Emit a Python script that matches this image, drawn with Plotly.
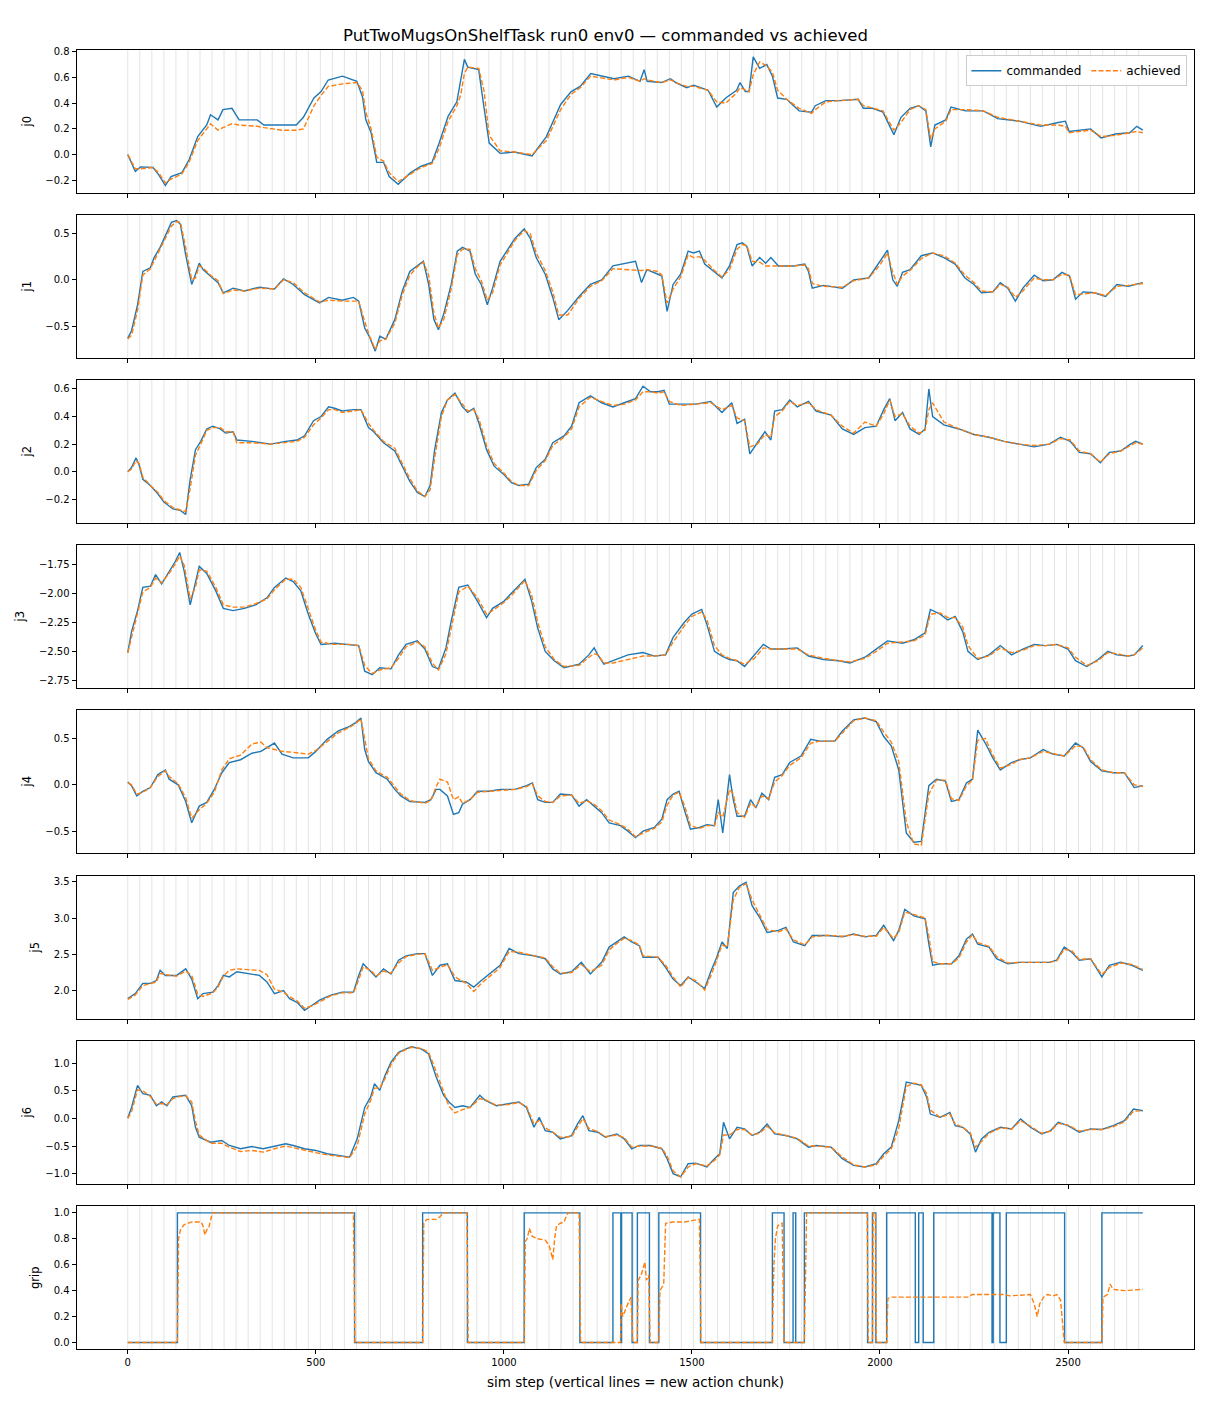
import plotly.graph_objects as go

# ---------------- data ----------------
j0_steps = [0,20,34,67,82,100,115,144,163,186,
            210,220,240,253,277,296,344,362,410,448,
            467,495,514,533,571,609,624,633,647,662,
            680,695,719,752,780,809,828,852,875,885,
            895,904,933,947,961,990,1028,1075,1113,1151,
            1179,1203,1231,1293,1331,1362,1373,1381,1419,1443,
            1457,1486,1505,1543,1566,1590,1619,1628,1642,1652,
            1663,1680,1699,1714,1728,1752,1785,1818,1828,1856,
            1894,1942,1956,1980,2008,2037,2056,2080,2103,2122,
            2135,2146,2175,2189,2227,2275,2313,2370,2427,2474,
            2493,2503,2560,2588,2626,2664,2683,2699]
j0_cmd = [0.00,-0.13,-0.095,-0.10,-0.155,-0.24,-0.17,-0.14,-0.04,0.14,
          0.23,0.31,0.27,0.35,0.36,0.27,0.27,0.23,0.23,0.23,
          0.29,0.44,0.49,0.58,0.61,0.57,0.45,0.27,0.17,-0.06,
          -0.06,-0.17,-0.23,-0.14,-0.09,-0.06,0.09,0.30,0.41,0.58,
          0.74,0.68,0.66,0.37,0.09,0.01,0.02,-0.01,0.14,0.39,
          0.49,0.53,0.63,0.59,0.61,0.57,0.66,0.57,0.56,0.59,
          0.56,0.52,0.54,0.50,0.37,0.44,0.50,0.56,0.49,0.49,
          0.76,0.67,0.70,0.61,0.44,0.43,0.34,0.33,0.38,0.42,
          0.42,0.43,0.36,0.36,0.33,0.155,0.29,0.36,0.38,0.34,
          0.06,0.23,0.27,0.37,0.34,0.34,0.28,0.26,0.22,0.25,
          0.26,0.18,0.20,0.13,0.16,0.17,0.22,0.19]
j0_ach = [0.00,-0.11,-0.11,-0.10,-0.14,-0.22,-0.19,-0.15,-0.06,0.11,
          0.20,0.24,0.19,0.21,0.24,0.23,0.22,0.21,0.19,0.19,
          0.20,0.38,0.46,0.53,0.55,0.56,0.50,0.33,0.20,-0.02,
          -0.05,-0.14,-0.21,-0.15,-0.10,-0.07,0.05,0.26,0.38,0.46,
          0.63,0.68,0.67,0.50,0.15,0.03,0.02,0.00,0.11,0.35,
          0.47,0.52,0.61,0.58,0.60,0.57,0.59,0.58,0.56,0.58,
          0.56,0.53,0.53,0.50,0.41,0.40,0.48,0.52,0.50,0.49,
          0.62,0.72,0.69,0.64,0.50,0.43,0.36,0.32,0.35,0.41,
          0.42,0.43,0.38,0.36,0.34,0.19,0.25,0.35,0.38,0.35,
          0.12,0.20,0.26,0.35,0.35,0.34,0.29,0.26,0.23,0.23,
          0.22,0.17,0.19,0.14,0.15,0.17,0.18,0.17]

j1_steps = [0,10,26,40,60,70,86,100,116,130,
            140,154,170,180,190,200,220,240,254,280,
            310,350,390,414,440,470,510,534,570,600,
            614,630,642,658,670,686,710,730,750,770,
            786,800,814,826,840,860,876,890,910,924,
            940,956,970,990,1010,1030,1054,1070,1086,1110,
            1130,1146,1170,1200,1230,1260,1290,1326,1350,1366,
            1380,1410,1420,1434,1450,1470,1490,1504,1520,1534,
            1560,1580,1600,1620,1634,1646,1660,1680,1696,1710,
            1730,1770,1800,1810,1820,1850,1900,1930,1970,2000,
            2020,2034,2046,2060,2080,2110,2140,2170,2200,2226,
            2250,2270,2300,2320,2340,2360,2380,2410,2434,2460,
            2484,2504,2520,2540,2570,2600,2630,2660,2699]
j1_cmd = [-0.63,-0.55,-0.27,0.09,0.13,0.24,0.35,0.47,0.62,0.64,
          0.60,0.27,-0.05,0.06,0.18,0.11,0.04,-0.03,-0.14,-0.09,
          -0.12,-0.08,-0.10,0.01,-0.05,-0.16,-0.25,-0.19,-0.22,-0.19,
          -0.23,-0.52,-0.61,-0.77,-0.61,-0.64,-0.43,-0.12,0.09,0.15,
          0.20,-0.05,-0.43,-0.54,-0.37,-0.05,0.31,0.35,0.31,0.06,
          -0.05,-0.27,-0.09,0.20,0.33,0.45,0.55,0.45,0.24,0.06,
          -0.19,-0.43,-0.33,-0.18,-0.05,0.00,0.15,0.18,0.20,-0.03,
          0.11,0.06,0.04,-0.34,-0.05,0.06,0.31,0.29,0.31,0.17,
          0.08,0.02,0.15,0.38,0.40,0.36,0.15,0.24,0.18,0.24,
          0.15,0.15,0.17,0.09,-0.09,-0.06,-0.09,0.00,0.02,0.20,
          0.32,0.00,-0.07,0.08,0.11,0.26,0.29,0.24,0.17,0.02,
          -0.05,-0.14,-0.13,-0.03,-0.09,-0.23,-0.09,0.05,-0.01,0.00,
          0.08,0.04,-0.21,-0.13,-0.14,-0.18,-0.05,-0.07,-0.03]
j1_ach = [-0.64,-0.60,-0.33,0.05,0.12,0.20,0.33,0.44,0.58,0.63,
          0.62,0.35,0.00,0.02,0.15,0.13,0.05,-0.01,-0.15,-0.11,
          -0.12,-0.09,-0.10,0.00,-0.03,-0.14,-0.24,-0.22,-0.23,-0.23,
          -0.23,-0.45,-0.60,-0.75,-0.66,-0.64,-0.47,-0.16,0.05,0.14,
          0.19,0.05,-0.36,-0.52,-0.43,-0.10,0.27,0.33,0.33,0.12,
          -0.01,-0.22,-0.14,0.16,0.30,0.43,0.53,0.50,0.29,0.10,
          -0.13,-0.38,-0.38,-0.20,-0.07,-0.01,0.12,0.11,0.11,0.10,
          0.11,0.09,0.05,-0.25,-0.10,0.03,0.27,0.24,0.25,0.21,
          0.10,0.03,0.11,0.33,0.38,0.37,0.20,0.19,0.15,0.15,
          0.15,0.15,0.16,0.12,-0.04,-0.07,-0.08,-0.01,0.02,0.16,
          0.29,0.08,-0.05,0.04,0.10,0.23,0.29,0.26,0.18,0.05,
          -0.03,-0.12,-0.13,-0.05,-0.08,-0.19,-0.12,0.02,0.00,0.00,
          0.06,0.05,-0.16,-0.15,-0.14,-0.17,-0.07,-0.06,-0.04]

j2_steps = [0,10,22,30,40,60,80,96,120,140,
            154,166,180,194,210,226,246,260,280,290,
            330,380,420,450,470,494,514,534,550,570,
            600,620,640,654,680,710,730,750,770,790,
            804,816,834,850,870,890,904,920,934,954,
            974,1000,1020,1040,1066,1086,1110,1130,1160,1180,
            1200,1230,1260,1290,1320,1350,1370,1390,1410,1426,
            1440,1470,1510,1550,1580,1606,1620,1640,1654,1674,
            1694,1710,1720,1740,1760,1780,1810,1830,1870,1900,
            1930,1960,1990,2010,2026,2040,2060,2080,2104,2120,
            2130,2140,2170,2210,2250,2290,2330,2370,2410,2450,
            2480,2506,2530,2560,2586,2610,2640,2666,2680,2699]
j2_cmd = [0.00,0.03,0.10,0.05,-0.055,-0.10,-0.16,-0.22,-0.27,-0.28,
          -0.31,-0.055,0.16,0.22,0.31,0.33,0.31,0.28,0.29,0.23,
          0.22,0.20,0.22,0.23,0.26,0.37,0.40,0.47,0.46,0.44,
          0.45,0.45,0.32,0.29,0.21,0.15,0.04,-0.07,-0.15,-0.18,
          -0.10,0.16,0.43,0.52,0.57,0.47,0.43,0.46,0.35,0.16,
          0.04,-0.02,-0.08,-0.10,-0.09,0.03,0.09,0.21,0.26,0.33,
          0.50,0.55,0.50,0.47,0.50,0.53,0.62,0.58,0.58,0.59,
          0.49,0.49,0.49,0.51,0.43,0.50,0.35,0.38,0.13,0.21,
          0.29,0.23,0.44,0.45,0.52,0.47,0.51,0.44,0.41,0.31,
          0.27,0.32,0.33,0.45,0.53,0.37,0.43,0.31,0.27,0.31,
          0.60,0.40,0.34,0.31,0.27,0.25,0.22,0.20,0.18,0.20,
          0.25,0.22,0.14,0.13,0.065,0.14,0.15,0.20,0.22,0.20]
j2_ach = [0.00,0.02,0.08,0.06,-0.04,-0.10,-0.15,-0.21,-0.26,-0.28,
          -0.29,-0.12,0.12,0.20,0.30,0.32,0.32,0.29,0.29,0.21,
          0.21,0.20,0.21,0.22,0.25,0.34,0.39,0.45,0.45,0.43,
          0.44,0.45,0.35,0.30,0.22,0.17,0.06,-0.05,-0.14,-0.18,
          -0.13,0.10,0.40,0.52,0.56,0.49,0.44,0.45,0.38,0.19,
          0.06,-0.01,-0.07,-0.10,-0.10,0.01,0.08,0.19,0.25,0.31,
          0.47,0.54,0.51,0.48,0.49,0.52,0.58,0.58,0.57,0.58,
          0.51,0.48,0.49,0.50,0.45,0.48,0.39,0.37,0.18,0.20,
          0.27,0.25,0.40,0.44,0.51,0.48,0.50,0.45,0.41,0.33,
          0.28,0.36,0.33,0.42,0.52,0.40,0.42,0.33,0.28,0.30,
          0.45,0.50,0.36,0.31,0.27,0.25,0.22,0.20,0.19,0.20,
          0.24,0.23,0.15,0.13,0.07,0.13,0.15,0.19,0.21,0.20]

j3_steps = [0,10,26,40,60,74,90,110,126,138,
            150,166,180,190,210,234,254,280,310,340,
            370,390,420,440,460,480,500,514,550,590,
            614,630,650,670,700,720,740,770,790,810,
            826,846,860,880,904,930,954,970,1000,1020,
            1040,1056,1074,1090,1110,1134,1160,1200,1226,1240,
            1250,1266,1290,1330,1370,1400,1430,1450,1480,1500,
            1526,1540,1560,1580,1600,1620,1640,1666,1690,1710,
            1740,1780,1810,1850,1890,1920,1960,1990,2020,2060,
            2090,2120,2134,2160,2180,2200,2220,2234,2260,2290,
            2320,2350,2380,2410,2440,2470,2500,2520,2550,2580,
            2606,2630,2660,2676,2699]
j3_cmd = [-2.51,-2.33,-2.15,-1.95,-1.94,-1.84,-1.92,-1.81,-1.73,-1.65,
          -1.81,-2.10,-1.90,-1.77,-1.83,-1.98,-2.13,-2.15,-2.13,-2.10,
          -2.04,-1.95,-1.87,-1.90,-1.98,-2.18,-2.35,-2.44,-2.43,-2.44,
          -2.45,-2.67,-2.70,-2.64,-2.65,-2.53,-2.44,-2.41,-2.48,-2.63,
          -2.65,-2.47,-2.24,-1.95,-1.93,-2.07,-2.21,-2.13,-2.07,-2.00,
          -1.93,-1.88,-2.07,-2.30,-2.50,-2.58,-2.64,-2.61,-2.53,-2.47,
          -2.53,-2.61,-2.58,-2.53,-2.51,-2.54,-2.53,-2.38,-2.25,-2.18,
          -2.14,-2.27,-2.50,-2.54,-2.57,-2.58,-2.63,-2.53,-2.44,-2.48,
          -2.48,-2.47,-2.54,-2.57,-2.58,-2.60,-2.55,-2.48,-2.41,-2.43,
          -2.40,-2.34,-2.14,-2.18,-2.23,-2.20,-2.33,-2.50,-2.57,-2.53,
          -2.45,-2.53,-2.48,-2.44,-2.45,-2.44,-2.48,-2.58,-2.63,-2.57,
          -2.50,-2.53,-2.54,-2.53,-2.45]
j3_ach = [-2.51,-2.38,-2.19,-1.99,-1.95,-1.87,-1.91,-1.83,-1.75,-1.68,
          -1.76,-2.05,-1.95,-1.80,-1.81,-1.95,-2.10,-2.12,-2.12,-2.09,
          -2.05,-1.97,-1.88,-1.88,-1.95,-2.13,-2.32,-2.42,-2.44,-2.44,
          -2.45,-2.62,-2.69,-2.66,-2.64,-2.56,-2.46,-2.42,-2.46,-2.60,
          -2.66,-2.52,-2.30,-1.99,-1.94,-2.04,-2.18,-2.15,-2.08,-2.02,
          -1.95,-1.89,-2.02,-2.25,-2.46,-2.57,-2.63,-2.62,-2.55,-2.52,
          -2.53,-2.60,-2.60,-2.57,-2.54,-2.54,-2.53,-2.42,-2.28,-2.20,
          -2.16,-2.23,-2.45,-2.53,-2.56,-2.58,-2.61,-2.56,-2.47,-2.48,
          -2.48,-2.48,-2.53,-2.56,-2.58,-2.59,-2.56,-2.50,-2.43,-2.42,
          -2.41,-2.36,-2.18,-2.17,-2.21,-2.21,-2.29,-2.45,-2.56,-2.54,
          -2.47,-2.51,-2.49,-2.45,-2.45,-2.44,-2.47,-2.55,-2.62,-2.58,
          -2.51,-2.52,-2.54,-2.53,-2.47]

j4_steps = [0,10,24,40,60,80,100,110,134,154,
            170,190,210,230,250,270,300,330,354,370,
            390,410,440,480,500,530,560,590,606,620,
            630,640,660,690,710,726,750,790,806,820,
            830,850,866,880,890,910,930,960,990,1030,
            1060,1076,1090,1110,1130,1150,1180,1200,1220,1240,
            1260,1280,1310,1330,1350,1370,1400,1420,1434,1450,
            1466,1480,1496,1520,1540,1560,1570,1582,1600,1610,
            1620,1640,1656,1670,1686,1704,1720,1740,1760,1790,
            1816,1840,1880,1900,1930,1960,1990,2010,2030,2050,
            2070,2090,2110,2130,2150,2174,2190,2210,2230,2246,
            2260,2280,2300,2320,2350,2370,2400,2434,2460,2490,
            2520,2540,2560,2590,2620,2650,2676,2699]
j4_cmd = [0.03,-0.01,-0.12,-0.07,-0.03,0.11,0.16,0.06,0.00,-0.18,
          -0.41,-0.23,-0.19,-0.05,0.13,0.24,0.27,0.34,0.36,0.40,
          0.45,0.33,0.29,0.29,0.36,0.49,0.58,0.63,0.67,0.72,
          0.38,0.25,0.13,0.06,-0.05,-0.12,-0.18,-0.19,-0.16,-0.05,
          -0.05,-0.12,-0.32,-0.30,-0.21,-0.16,-0.07,-0.07,-0.05,-0.05,
          -0.01,0.02,-0.16,-0.19,-0.19,-0.10,-0.11,-0.23,-0.16,-0.23,
          -0.30,-0.41,-0.44,-0.50,-0.57,-0.50,-0.46,-0.37,-0.16,-0.10,
          -0.07,-0.27,-0.48,-0.46,-0.43,-0.44,-0.16,-0.52,0.11,-0.16,
          -0.34,-0.34,-0.16,-0.25,-0.09,-0.16,0.08,0.11,0.24,0.31,
          0.49,0.47,0.47,0.58,0.70,0.72,0.68,0.52,0.42,0.16,
          -0.52,-0.62,-0.61,-0.01,0.06,0.04,-0.18,-0.16,0.02,0.06,
          0.59,0.45,0.29,0.16,0.24,0.27,0.29,0.38,0.33,0.31,
          0.45,0.40,0.25,0.15,0.13,0.13,-0.03,-0.01]
j4_ach = [0.02,0.00,-0.10,-0.08,-0.03,0.09,0.15,0.09,0.01,-0.14,
          -0.36,-0.27,-0.20,-0.08,0.16,0.28,0.32,0.44,0.46,0.40,
          0.38,0.36,0.35,0.33,0.37,0.47,0.56,0.62,0.66,0.71,
          0.48,0.28,0.15,0.08,-0.02,-0.10,-0.17,-0.20,-0.17,-0.02,
          0.06,0.03,-0.16,-0.13,-0.20,-0.16,-0.08,-0.07,-0.06,-0.05,
          -0.02,0.01,-0.12,-0.18,-0.19,-0.12,-0.11,-0.20,-0.17,-0.21,
          -0.28,-0.38,-0.43,-0.48,-0.56,-0.52,-0.47,-0.40,-0.22,-0.11,
          -0.08,-0.22,-0.44,-0.47,-0.44,-0.44,-0.30,-0.35,-0.05,-0.10,
          -0.30,-0.35,-0.20,-0.24,-0.12,-0.15,0.03,0.10,0.21,0.29,
          0.45,0.47,0.47,0.56,0.69,0.72,0.69,0.57,0.46,0.25,
          -0.40,-0.64,-0.65,-0.10,0.05,0.05,-0.15,-0.17,-0.01,0.05,
          0.48,0.50,0.32,0.18,0.22,0.27,0.29,0.36,0.34,0.31,
          0.42,0.41,0.27,0.16,0.13,0.13,0.00,-0.02]

j5_steps = [0,20,40,60,76,86,100,130,154,170,
            186,200,226,240,254,270,290,320,350,370,
            390,414,430,450,470,490,510,540,570,600,
            614,626,646,660,680,700,720,740,770,790,
            810,830,850,870,900,920,940,970,990,1014,
            1040,1080,1110,1130,1150,1180,1206,1230,1260,1280,
            1300,1320,1340,1360,1370,1410,1430,1450,1470,1490,
            1510,1534,1550,1566,1580,1594,1610,1626,1644,1660,
            1680,1700,1730,1750,1770,1800,1820,1860,1900,1930,
            1960,1990,2010,2036,2050,2066,2090,2120,2130,2140,
            2160,2190,2210,2230,2246,2260,2290,2310,2340,2370,
            2410,2450,2470,2490,2510,2530,2560,2590,2610,2640,
            2670,2699]
j5_cmd = [1.89,1.96,2.10,2.10,2.14,2.28,2.21,2.21,2.30,2.16,
          1.89,1.96,1.98,2.07,2.21,2.19,2.26,2.23,2.21,2.12,
          1.96,2.00,1.89,1.84,1.73,1.80,1.87,1.94,1.98,1.98,
          2.21,2.37,2.26,2.19,2.30,2.23,2.42,2.48,2.51,2.51,
          2.21,2.35,2.37,2.14,2.12,2.05,2.14,2.26,2.35,2.58,
          2.51,2.48,2.44,2.30,2.23,2.26,2.39,2.23,2.39,2.60,
          2.67,2.74,2.67,2.62,2.46,2.46,2.32,2.16,2.07,2.19,
          2.12,2.03,2.26,2.46,2.67,2.58,3.35,3.44,3.49,3.17,
          3.01,2.80,2.83,2.87,2.67,2.62,2.76,2.76,2.74,2.78,
          2.74,2.76,2.90,2.69,2.83,3.12,3.03,2.99,2.64,2.35,
          2.37,2.37,2.48,2.71,2.78,2.64,2.60,2.44,2.37,2.39,
          2.39,2.39,2.42,2.60,2.53,2.42,2.44,2.19,2.35,2.39,
          2.35,2.28]
j5_ach = [1.88,1.94,2.07,2.10,2.12,2.24,2.22,2.20,2.27,2.21,
          1.95,1.92,1.97,2.05,2.20,2.28,2.30,2.29,2.28,2.22,
          2.02,1.98,1.92,1.86,1.76,1.79,1.85,1.93,1.97,1.97,
          2.15,2.33,2.28,2.20,2.27,2.24,2.38,2.47,2.50,2.51,
          2.28,2.32,2.36,2.19,2.10,1.99,2.10,2.23,2.32,2.54,
          2.53,2.48,2.45,2.33,2.24,2.25,2.36,2.26,2.35,2.56,
          2.65,2.72,2.69,2.63,2.48,2.46,2.35,2.19,2.05,2.18,
          2.14,2.01,2.20,2.42,2.63,2.60,3.25,3.42,3.47,3.25,
          3.05,2.84,2.81,2.85,2.70,2.63,2.74,2.76,2.75,2.77,
          2.75,2.75,2.87,2.72,2.80,3.08,3.05,3.00,2.75,2.40,
          2.37,2.37,2.45,2.67,2.77,2.66,2.61,2.47,2.38,2.39,
          2.39,2.39,2.41,2.57,2.55,2.43,2.44,2.22,2.32,2.38,
          2.36,2.29]

j6_steps = [0,10,26,40,60,76,90,104,120,140,
            154,170,180,190,220,250,270,300,330,360,
            390,420,440,470,500,530,560,590,610,630,
            646,656,670,684,700,720,740,754,780,800,
            820,840,854,870,890,910,936,950,980,1010,
            1040,1060,1080,1094,1110,1130,1150,1180,1196,1210,
            1226,1250,1270,1300,1320,1340,1360,1390,1420,1434,
            1450,1470,1490,1510,1540,1560,1574,1584,1600,1620,
            1640,1660,1680,1700,1720,1750,1780,1810,1830,1870,
            1900,1930,1960,1990,2010,2030,2050,2070,2090,2110,
            2124,2134,2160,2186,2200,2220,2240,2254,2270,2290,
            2320,2350,2374,2400,2430,2454,2474,2500,2530,2560,
            2590,2620,2650,2674,2699]
j6_cmd = [0.01,0.20,0.60,0.45,0.42,0.23,0.30,0.23,0.39,0.40,
          0.42,0.23,-0.16,-0.34,-0.43,-0.40,-0.49,-0.55,-0.51,-0.55,
          -0.51,-0.46,-0.49,-0.55,-0.58,-0.64,-0.67,-0.70,-0.37,0.20,
          0.39,0.63,0.51,0.78,1.02,1.20,1.26,1.30,1.26,1.17,
          0.75,0.42,0.30,0.20,0.23,0.20,0.42,0.33,0.23,0.27,
          0.30,0.20,-0.16,0.02,-0.22,-0.25,-0.37,-0.31,-0.10,0.05,
          -0.22,-0.25,-0.34,-0.28,-0.37,-0.55,-0.49,-0.49,-0.55,-0.73,
          -1.00,-1.06,-0.82,-0.81,-0.88,-0.73,-0.64,-0.07,-0.37,-0.16,
          -0.19,-0.31,-0.25,-0.10,-0.28,-0.31,-0.37,-0.52,-0.49,-0.52,
          -0.73,-0.85,-0.88,-0.82,-0.64,-0.52,-0.04,0.66,0.63,0.60,
          0.39,0.08,0.02,0.11,-0.13,-0.16,-0.28,-0.61,-0.37,-0.25,
          -0.16,-0.19,-0.01,-0.16,-0.28,-0.22,-0.07,-0.13,-0.25,-0.19,
          -0.20,-0.13,-0.04,0.17,0.14]
j6_ach = [0.00,0.12,0.52,0.50,0.40,0.26,0.27,0.25,0.36,0.40,
          0.41,0.30,-0.05,-0.30,-0.45,-0.45,-0.52,-0.60,-0.58,-0.61,
          -0.55,-0.50,-0.53,-0.58,-0.62,-0.66,-0.69,-0.71,-0.50,0.08,
          0.33,0.55,0.55,0.72,0.98,1.18,1.25,1.29,1.27,1.20,
          0.85,0.50,0.22,0.10,0.16,0.20,0.36,0.34,0.24,0.25,
          0.29,0.22,-0.10,-0.04,-0.17,-0.25,-0.34,-0.33,-0.15,0.00,
          -0.18,-0.24,-0.33,-0.30,-0.35,-0.52,-0.50,-0.50,-0.54,-0.68,
          -0.95,-1.06,-0.88,-0.82,-0.86,-0.76,-0.66,-0.30,-0.30,-0.20,
          -0.20,-0.30,-0.27,-0.14,-0.26,-0.31,-0.36,-0.50,-0.50,-0.52,
          -0.70,-0.84,-0.88,-0.84,-0.68,-0.55,-0.18,0.58,0.64,0.61,
          0.45,0.15,0.02,0.08,-0.10,-0.16,-0.26,-0.52,-0.42,-0.27,
          -0.17,-0.19,-0.04,-0.14,-0.27,-0.23,-0.09,-0.12,-0.23,-0.20,
          -0.20,-0.15,-0.06,0.13,0.14]

grip_cmd_steps = [0,132,603,784,903,1054,1202,1290,1311,1313,
                  1341,1355,1387,1412,1523,1714,1745,1769,1776,1799,
                  1967,1980,1989,2018,2094,2103,2115,2143,2298,2301,
                  2319,2336,2491,2590,2699]
grip_cmd = [0,1,0,1,0,1,0,1,0,1,
            0,1,0,1,0,1,0,1,0,1,
            0,1,0,1,0,1,0,1,0,1,
            0,1,0,1,1]
grip_ach_steps = [0,132,135,140,150,170,195,200,205,210,
                  215,220,225,600,604,784,787,795,820,830,
                  840,902,905,1054,1057,1062,1068,1075,1090,1110,
                  1120,1125,1130,1135,1140,1150,1160,1170,1200,1204,
                  1310,1312,1316,1330,1338,1343,1355,1357,1365,1375,
                  1379,1385,1389,1412,1415,1425,1430,1450,1480,1500,
                  1520,1524,1714,1716,1718,1722,1728,1740,1745,1799,
                  1805,1966,1969,1980,1982,1988,1990,2018,2021,2030,
                  2100,2237,2245,2300,2330,2345,2380,2400,2410,2418,
                  2425,2435,2445,2460,2470,2480,2490,2590,2593,2605,
                  2612,2620,2650,2699]
grip_ach = [0,0,0.80,0.87,0.91,0.93,0.93,0.90,0.83,0.87,
            0.88,0.95,1.0,1.0,0,0,0.92,0.95,0.95,0.97,
            1.0,1.0,0,0,0.78,0.80,0.88,0.82,0.80,0.79,
            0.75,0.70,0.64,0.80,0.90,0.92,0.93,1.0,1.0,0,
            0,0.30,0.20,0.30,0.35,0,0,0.48,0.52,0.62,
            0.48,0.52,0,0,0.40,0.45,0.92,0.93,0.93,0.94,
            0.95,0,0,0.35,0.60,0.80,0.90,0.92,0,0,
            1.0,1.0,0,0,1.0,1.0,0,0,0.34,0.35,
            0.35,0.35,0.37,0.37,0.37,0.36,0.37,0.37,0.30,0.20,
            0.30,0.35,0.37,0.36,0.37,0.33,0,0,0.35,0.37,
            0.45,0.41,0.40,0.41]

panel_names = ["j0", "j1", "j2", "j3", "j4", "j5", "j6", "grip"]
y_ticks = [[-0.2, 0.0, 0.2, 0.4, 0.6, 0.8],
           [-0.5, 0.0, 0.5],
           [-0.2, 0.0, 0.2, 0.4, 0.6],
           [-2.75, -2.5, -2.25, -2.0, -1.75],
           [-0.5, 0.0, 0.5],
           [2.0, 2.5, 3.0, 3.5],
           [-1.0, -0.5, 0.0, 0.5, 1.0],
           [0.0, 0.2, 0.4, 0.6, 0.8, 1.0]]
y_formats = [".1f", ".1f", ".1f", ".2f", ".1f", ".1f", ".1f", ".1f"]
y_ranges = [(-0.295, 0.813), (-0.84, 0.70), (-0.369, 0.665), (-2.811, -1.586),
            (-0.731, 0.806), (1.616, 3.578), (-1.181, 1.404), (-0.05, 1.05)]
x_ticks = [0, 500, 1000, 1500, 2000, 2500]
x_range = (-135, 2835)
chunk_size = 32
total_steps = 2700
chunk_starts = list(range(0, total_steps, chunk_size))

series = [
    (j0_steps, j0_cmd, j0_steps, j0_ach),
    (j1_steps, j1_cmd, j1_steps, j1_ach),
    (j2_steps, j2_cmd, j2_steps, j2_ach),
    (j3_steps, j3_cmd, j3_steps, j3_ach),
    (j4_steps, j4_cmd, j4_steps, j4_ach),
    (j5_steps, j5_cmd, j5_steps, j5_ach),
    (j6_steps, j6_cmd, j6_steps, j6_ach),
    (grip_cmd_steps, grip_cmd, grip_ach_steps, grip_ach),
]
for s in series:
    assert len(s[0]) == len(s[1]) and len(s[2]) == len(s[3]), (len(s[0]), len(s[1]), len(s[2]), len(s[3]))

# ---------------- layout geometry ----------------
W, H = 1210, 1408
ML, MR, MT, MB = 77.0, 16.4, 50.3, 58.7
PW = W - ML - MR
PH = H - MT - MB
panel_tops = [50.3, 215.3, 380.3, 545.3, 710.3, 876.3, 1041.3, 1206.7]
panel_h = 142.6

BLUE = "#1f77b4"
ORANGE = "#ff7f0e"
FONT = "DejaVu Sans"

fig = go.Figure()
layout = {}
shapes = []
for i, (cs, cv, as_, av) in enumerate(series):
    k = i + 1
    xa = "x" if k == 1 else f"x{k}"
    ya = "y" if k == 1 else f"y{k}"
    fig.add_trace(go.Scatter(
        x=cs, y=cv, mode="lines", name="commanded", legendgroup="c",
        showlegend=(k == 1), xaxis=xa, yaxis=ya,
        line=dict(color=BLUE, width=1.4, shape=("hv" if k == 8 else "linear")),
        hoverinfo="skip"))
    fig.add_trace(go.Scatter(
        x=as_, y=av, mode="lines", name="achieved", legendgroup="a",
        showlegend=(k == 1), xaxis=xa, yaxis=ya,
        line=dict(color=ORANGE, width=1.4, dash="5px,2.2px"),
        hoverinfo="skip"))

    top = panel_tops[i]
    bot = top + panel_h
    d0 = max(0.0, 1 - (bot - MT) / PH)
    d1 = min(1.0, 1 - (top - MT) / PH)
    xkey = "xaxis" if k == 1 else f"xaxis{k}"
    ykey = "yaxis" if k == 1 else f"yaxis{k}"
    layout[xkey] = dict(
        domain=[0, 1], range=list(x_range), anchor=ya,
        tickmode="array", tickvals=x_ticks, tickformat="d",
        ticks="outside", ticklen=4.5, tickwidth=0.8, tickcolor="black",
        showticklabels=(k == 8), showline=True, mirror=True,
        linecolor="black", linewidth=0.8, showgrid=False, zeroline=False,
        tickfont=dict(family=FONT, size=10, color="black"))
    layout[ykey] = dict(
        domain=[d0, d1], range=list(y_ranges[i]), anchor=xa,
        tickmode="array", tickvals=y_ticks[i], tickformat=y_formats[i],
        ticks="outside", ticklen=4.5, tickwidth=0.8, tickcolor="black",
        showline=True, mirror=True, linecolor="black", linewidth=0.8,
        showgrid=False, zeroline=False,
        tickfont=dict(family=FONT, size=10, color="black"),
        title=dict(text=panel_names[i], font=dict(family=FONT, size=11.5, color="black"),
                   standoff=11))
    for c in chunk_starts:
        shapes.append(dict(type="line", xref=xa, yref=f"{ya} domain",
                           x0=c, x1=c, y0=0, y1=1, layer="below",
                           line=dict(color="rgba(0,0,0,0.14)", width=0.8)))

def px_x(x):
    return (x - ML) / PW

def px_y(y):
    return 1 - (y - MT) / PH

fig.update_layout(
    width=W, height=H,
    margin=dict(l=ML, r=MR, t=MT, b=MB, autoexpand=False),
    paper_bgcolor="white", plot_bgcolor="white",
    font=dict(family=FONT, color="black"),
    shapes=shapes,
    showlegend=True,
    hovermode=False,
    legend=dict(orientation="h", x=px_x(1187), y=px_y(55.5),
                xanchor="right", yanchor="top",
                bgcolor="rgba(255,255,255,0.85)", bordercolor="#cccccc",
                borderwidth=1, font=dict(family=FONT, size=12, color="black"),
                tracegroupgap=0, itemwidth=30),
    annotations=[
        dict(text="PutTwoMugsOnShelfTask run0 env0 \u2014 commanded vs achieved",
             x=px_x(605), y=px_y(36), xref="paper", yref="paper",
             xanchor="center", yanchor="middle", showarrow=False,
             font=dict(family=FONT, size=16.5, color="black")),
        dict(text="sim step (vertical lines = new action chunk)",
             x=px_x(635.3), y=px_y(1382), xref="paper", yref="paper",
             xanchor="center", yanchor="middle", showarrow=False,
             font=dict(family=FONT, size=13.5, color="black")),
    ],
    **layout,
)

fig.write_html("out.html",
               config={"displayModeBar": False, "staticPlot": False},
               post_script="document.body.style.margin='0';document.body.style.padding='0';")
